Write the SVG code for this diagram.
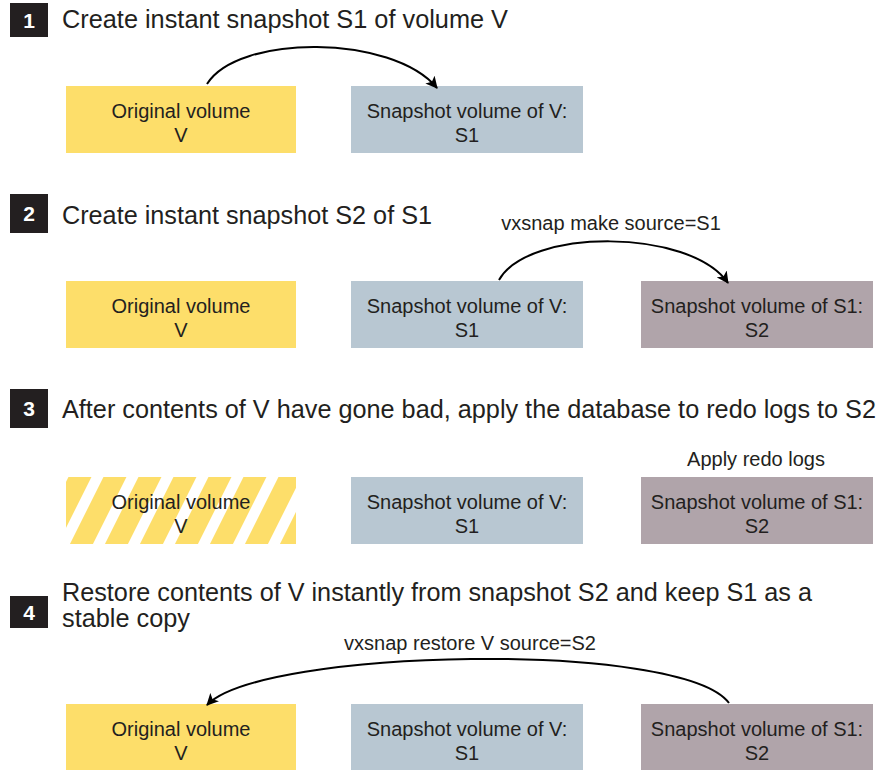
<svg xmlns="http://www.w3.org/2000/svg" width="889" height="770" viewBox="0 0 889 770">
  <style>
    .title { font-family: "Liberation Sans", Arial, sans-serif; font-size: 25px; fill: #231F20; }
    .badge { fill: #231F20; }
    .num { font-family: "Liberation Sans", Arial, sans-serif; font-size: 21px; font-weight: bold; fill: #FFFFFF; text-anchor: middle; }
    .lbl { font-family: "Liberation Sans", Arial, sans-serif; font-size: 20px; fill: #231F20; text-anchor: middle; }
    .yellow { fill: #FDDE6A; }
    .blue { fill: #B8C7D2; }
    .mauve { fill: #B0A4AA; }
    .conn { fill: none; stroke: #000000; stroke-width: 2; marker-end: url(#arrow); }
  </style>
  <defs>
    <marker id="arrow" viewBox="0 0 12 12" refX="11" refY="6" markerWidth="12" markerHeight="12" markerUnits="userSpaceOnUse" orient="auto">
      <path d="M0,0 L12,6 L0,12 L3,6 Z" fill="#000000"/>
    </marker>
    <pattern id="stripes" patternUnits="userSpaceOnUse" width="35" height="20" patternTransform="skewX(-26.57)">
      <rect x="0" y="0" width="35" height="20" fill="#FDDE6A"/>
      <rect x="15" y="0" width="12" height="20" fill="#FFFFFF"/>
    </pattern>
  </defs>

  <rect width="889" height="770" fill="#FFFFFF"/>

  <!-- Step titles -->
  <g id="step1">
    <rect class="badge" x="10" y="3" width="38" height="34"/>
    <text class="num" x="29" y="28">1</text>
    <text class="title" x="62" y="28" textLength="446" lengthAdjust="spacingAndGlyphs">Create instant snapshot S1 of volume V</text>
  </g>
  <g id="step2">
    <rect class="badge" x="10" y="194" width="38" height="39"/>
    <text class="num" x="29" y="221">2</text>
    <text class="title" x="62" y="224" textLength="370" lengthAdjust="spacingAndGlyphs">Create instant snapshot S2 of S1</text>
  </g>
  <g id="step3">
    <rect class="badge" x="10" y="389" width="38" height="39"/>
    <text class="num" x="29" y="416">3</text>
    <text class="title" x="62" y="418" textLength="814" lengthAdjust="spacingAndGlyphs">After contents of V have gone bad, apply the database to redo logs to S2</text>
  </g>
  <g id="step4">
    <rect class="badge" x="10" y="596" width="38" height="32"/>
    <text class="num" x="29" y="620">4</text>
    <text class="title" x="62" y="601" textLength="750" lengthAdjust="spacingAndGlyphs">Restore contents of V instantly from snapshot S2 and keep S1 as a</text>
    <text class="title" x="62" y="627" textLength="128" lengthAdjust="spacingAndGlyphs">stable copy</text>
  </g>

  <!-- Row 1 -->
  <g id="r1-v">
    <rect class="yellow" x="66" y="86" width="230" height="67"/>
    <text class="lbl" x="181" y="118">Original volume</text>
    <text class="lbl" x="181" y="142">V</text>
  </g>
  <g id="r1-s1">
    <rect class="blue" x="351" y="86" width="232" height="67"/>
    <text class="lbl" x="467" y="118">Snapshot volume of V:</text>
    <text class="lbl" x="467" y="142">S1</text>
  </g>

  <!-- Row 2 -->
  <g id="r2-v">
    <rect class="yellow" x="66" y="281" width="230" height="67"/>
    <text class="lbl" x="181" y="313">Original volume</text>
    <text class="lbl" x="181" y="337">V</text>
  </g>
  <g id="r2-s1">
    <rect class="blue" x="351" y="281" width="232" height="67"/>
    <text class="lbl" x="467" y="313">Snapshot volume of V:</text>
    <text class="lbl" x="467" y="337">S1</text>
  </g>
  <g id="r2-s2">
    <rect class="mauve" x="641" y="281" width="232" height="67"/>
    <text class="lbl" x="757" y="313">Snapshot volume of S1:</text>
    <text class="lbl" x="757" y="337">S2</text>
  </g>

  <!-- Row 3 -->
  <g id="r3-v">
    <rect fill="url(#stripes)" x="66" y="477" width="230" height="67"/>
    <text class="lbl" x="181" y="509">Original volume</text>
    <text class="lbl" x="181" y="533">V</text>
  </g>
  <g id="r3-s1">
    <rect class="blue" x="351" y="477" width="232" height="67"/>
    <text class="lbl" x="467" y="509">Snapshot volume of V:</text>
    <text class="lbl" x="467" y="533">S1</text>
  </g>
  <g id="r3-s2">
    <rect class="mauve" x="641" y="477" width="232" height="67"/>
    <text class="lbl" x="757" y="509">Snapshot volume of S1:</text>
    <text class="lbl" x="757" y="533">S2</text>
    <text class="lbl" x="756" y="466">Apply redo logs</text>
  </g>

  <!-- Row 4 -->
  <g id="r4-v">
    <rect class="yellow" x="66" y="704" width="230" height="66"/>
    <text class="lbl" x="181" y="736">Original volume</text>
    <text class="lbl" x="181" y="760">V</text>
  </g>
  <g id="r4-s1">
    <rect class="blue" x="351" y="704" width="232" height="66"/>
    <text class="lbl" x="467" y="736">Snapshot volume of V:</text>
    <text class="lbl" x="467" y="760">S1</text>
  </g>
  <g id="r4-s2">
    <rect class="mauve" x="641" y="704" width="232" height="66"/>
    <text class="lbl" x="757" y="736">Snapshot volume of S1:</text>
    <text class="lbl" x="757" y="760">S2</text>
  </g>

  <!-- Connectors -->
  <g id="connectors">
    <path class="conn" d="M207,84 C238,34 392,34 437,88"/>
    <path class="conn" d="M499,280 C528,228 690,228 728,283"/>
    <text class="lbl" x="611" y="230">vxsnap make source=S1</text>
    <path class="conn" d="M729,703 C682,640 262,648 207,705"/>
    <text class="lbl" x="470" y="650">vxsnap restore V source=S2</text>
  </g>
</svg>
